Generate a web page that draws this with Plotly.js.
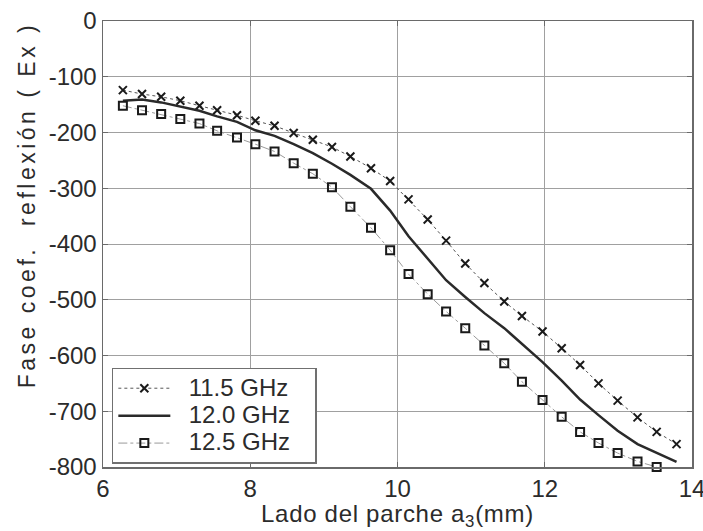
<!DOCTYPE html>
<html>
<head>
<meta charset="utf-8">
<script src="https://cdn.plot.ly/plotly-3.0.1.min.js"></script>
<style>
  html, body { margin: 0; padding: 0; background: #fff; }
  #chart { width: 703px; height: 531px; }
  /* spaced-out lettering for the axis captions */
  .annotation-text { letter-spacing: 3.5px; }
  .xtitle { letter-spacing: 0.7px; }
  /* legend labels are drawn larger than the row pitch they are laid out with */
  .legendtext { font-size: 24px !important; }
</style>
</head>
<body>
<div id="chart"></div>
<script>
// Patch side length a3 (mm) at which the phase was computed
const ladoMm = [6.27, 6.53, 6.79, 7.05, 7.31, 7.55, 7.82, 8.07, 8.33, 8.59,
                8.85, 9.11, 9.36, 9.64, 9.90, 10.15, 10.41, 10.66, 10.92, 11.18,
                11.45, 11.69, 11.97, 12.23, 12.48, 12.73, 12.99, 13.26, 13.52, 13.79];

// Reflection coefficient phase (Ex), degrees
const fase115 = [-124, -131, -136, -143, -152, -160, -169, -179, -188, -201,
                 -213, -226, -243, -264, -287, -320, -356, -394, -435, -470,
                 -503, -529, -557, -587, -617, -650, -681, -711, -737, -759];
const fase120 = [-143, -141, -146, -153, -161, -171, -181, -196, -206, -221,
                 -237, -256, -276, -301, -340, -386, -426, -465, -495, -524,
                 -551, -579, -612, -645, -679, -707, -735, -759, -775, -791];
const fase125 = [-152, -160, -167, -176, -184, -197, -209, -221, -234, -255,
                 -274, -298, -333, -371, -411, -454, -490, -521, -551, -582,
                 -614, -647, -680, -710, -737, -757, -775, -790, -800];

const nombres = ['11.5 GHz', '12.0 GHz', '12.5 GHz'];
const xTicks = [6, 8, 10, 12, 14];
const yTicks = [0, -100, -200, -300, -400, -500, -600, -700, -800];

const FONT = '"Liberation Sans", Arial, sans-serif';
const INK = '#2b2b2b';
const NBSP = '\u00A0';

// pad legend labels so the box keeps its wide proportions
const etiqueta = s => NBSP + NBSP + s + NBSP + NBSP + NBSP;

const traces = [
  {
    x: ladoMm, y: fase115, name: etiqueta(nombres[0]), type: 'scatter', mode: 'lines+markers',
    line: { color: '#555', width: 1, dash: 'dot' },
    marker: { symbol: 'x-thin', size: 8, color: '#1a1a1a', line: { color: '#1a1a1a', width: 2 } }
  },
  {
    x: ladoMm, y: fase120, name: etiqueta(nombres[1]), type: 'scatter', mode: 'lines',
    line: { color: '#2a2a2a', width: 2.5 }
  },
  {
    x: ladoMm.slice(0, fase125.length), y: fase125, name: etiqueta(nombres[2]), type: 'scatter',
    mode: 'lines+markers',
    line: { color: '#9a9a9a', width: 1, dash: 'dashdot' },
    marker: { symbol: 'square-open', size: 8, color: '#1a1a1a', line: { color: '#1a1a1a', width: 2 } },
    cliponaxis: false
  }
];

const axisCommon = {
  showgrid: true, gridcolor: '#a0a0a0', gridwidth: 1,
  showline: true, linecolor: '#6a6a6a', linewidth: 1.5, mirror: 'ticks',
  ticks: 'inside', ticklen: 5, tickcolor: '#6a6a6a',
  zeroline: false, ticklabeloverflow: 'allow',
  tickfont: { family: FONT, size: 24, color: INK }
};

const layout = {
  width: 703, height: 531,
  margin: { l: 103, r: 11, t: 21, b: 64 },
  paper_bgcolor: '#fff', plot_bgcolor: '#fff',
  showlegend: true,
  legend: {
    x: 0.015, y: 0.222, xanchor: 'left', yanchor: 'top',
    bgcolor: '#fff', bordercolor: '#707070', borderwidth: 1.5,
    font: { family: FONT, size: 18.8, color: INK },
    itemwidth: 52, tracegroupgap: 0
  },
  xaxis: Object.assign({}, axisCommon, {
    range: [6, 14], tickvals: xTicks, ticktext: xTicks.map(String),
    title: { text: 'Lado del parche a<sub>3</sub>(mm)', standoff: 4,
             font: { family: FONT, size: 24, color: INK } }
  }),
  yaxis: Object.assign({}, axisCommon, {
    range: [-800, 0], tickvals: yTicks, ticktext: yTicks.map(String)
  }),
  annotations: [{
    text: 'Fase coef.  reflexión ( Ex )',
    xref: 'paper', yref: 'paper', x: -0.129, y: 0.587,
    xanchor: 'center', yanchor: 'middle', textangle: -90, showarrow: false,
    font: { family: FONT, size: 23, color: INK }
  }]
};

Plotly.newPlot('chart', traces, layout, { displayModeBar: false, staticPlot: true });
</script>
</body>
</html>
